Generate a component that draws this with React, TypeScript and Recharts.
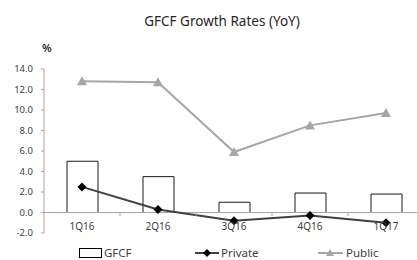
import { ComposedChart, Bar, Line, XAxis, YAxis, ReferenceLine } from 'recharts';

const quarters = ['1Q16', '2Q16', '3Q16', '4Q16', '1Q17'];
const gfcf = [5.0, 3.5, 1.0, 1.9, 1.8];
const privateInv = [2.5, 0.3, -0.8, -0.3, -1.0];
const publicInv = [12.8, 12.7, 5.9, 8.5, 9.7];
const yTicks = [-2, 0, 2, 4, 6, 8, 10, 12, 14];

const data = quarters.map((q, i) => ({
  name: q,
  GFCF: gfcf[i],
  Private: privateInv[i],
  Public: publicInv[i],
}));

const FONT = '"Noto Sans", "DejaVu Sans", sans-serif';
const TEXT = '#404040';
const GRAY = '#a6a6a6';

// diamond marker for the private series
const Diamond = (props: any) => {
  const { cx, cy } = props;
  if (cx == null || cy == null) return null;
  const r = 4.5;
  return (
    <polygon
      points={`${cx},${cy - r} ${cx + r},${cy} ${cx},${cy + r} ${cx - r},${cy}`}
      fill="#000"
    />
  );
};

// triangle marker for the public series
const Triangle = (props: any) => {
  const { cx, cy } = props;
  if (cx == null || cy == null) return null;
  return (
    <polygon
      points={`${cx},${cy - 5} ${cx + 5},${cy + 4} ${cx - 5},${cy + 4}`}
      fill={GRAY}
    />
  );
};

// category label, plus a small tick at the left edge of each band (on the zero line)
const QuarterTick = (props: any) => {
  const { x, y, payload, index } = props;
  const edge = payload.coordinate - payload.offset;
  return (
    <g>
      {index > 0 && (
        <line x1={edge} x2={edge} y1={y - 21} y2={y - 17} stroke={GRAY} />
      )}
      <text x={x} y={y - 3} textAnchor="middle" fill={TEXT} fontSize={10} fontFamily={FONT}>
        {payload.value}
      </text>
    </g>
  );
};

const LegendRow = () => (
  <svg width={417} height={20} style={{ position: 'absolute', left: 0, top: 243 }}>
    <rect x={79.5} y={5.5} width={22} height={9} fill="#fff" stroke="#000" />
    <text x={104} y={14} fill={TEXT} fontSize={11.5} fontFamily={FONT}>GFCF</text>
    <line x1={195} x2={219} y1={10} y2={10} stroke="#404040" strokeWidth={2} />
    <polygon points="207,6 211,10 207,14 203,10" fill="#000" />
    <text x={221} y={14} fill={TEXT} fontSize={11.5} fontFamily={FONT}>Private</text>
    <line x1={318} x2={343} y1={10} y2={10} stroke={GRAY} strokeWidth={2} />
    <polygon points="330,6 334,13 326,13" fill={GRAY} />
    <text x={346} y={14} fill={TEXT} fontSize={11.5} fontFamily={FONT}>Public</text>
  </svg>
);

export default function App() {
  return (
    <div
      style={{
        position: 'absolute',
        left: 0,
        top: 0,
        width: 417,
        height: 260,
        overflow: 'hidden',
        background: '#fff',
        fontFamily: FONT,
      }}
    >
      <div
        style={{
          position: 'absolute',
          top: 12,
          left: 0,
          width: 444,
          textAlign: 'center',
          fontSize: 13.5,
          color: '#262626',
        }}
      >
        GFCF Growth Rates (YoY)
      </div>
      <div style={{ position: 'absolute', top: 40, left: 42, fontSize: 11, fontWeight: 600, color: '#262626' }}>
        %
      </div>
      <ComposedChart
        width={425}
        height={260}
        data={data}
        margin={{ top: 69, right: 1, bottom: 7, left: 0 }}
        barCategoryGap={0}
      >
        <XAxis
          dataKey="name"
          height={20}
          axisLine={false}
          tickLine={false}
          tickSize={0}
          tickMargin={0}
          interval={0}
          tick={<QuarterTick />}
        />
        <YAxis
          width={44}
          domain={[-2, 14]}
          ticks={yTicks}
          interval={0}
          tickFormatter={(v: number) => v.toFixed(1)}
          axisLine={{ stroke: GRAY }}
          tickLine={{ stroke: GRAY }}
          tickSize={3}
          tickMargin={8}
          tick={{ fill: TEXT, fontSize: 9.5, fontFamily: FONT }}
        />
        <ReferenceLine y={0} stroke={GRAY} />
        <Bar dataKey="GFCF" barSize={31} fill="#fff" stroke="#1a1a1a" strokeWidth={1} isAnimationActive={false} />
        <Line
          dataKey="Private"
          stroke="#404040"
          strokeWidth={2}
          dot={<Diamond />}
          activeDot={false}
          isAnimationActive={false}
        />
        <Line
          dataKey="Public"
          stroke={GRAY}
          strokeWidth={2}
          dot={<Triangle />}
          activeDot={false}
          isAnimationActive={false}
        />
      </ComposedChart>
      <LegendRow />
    </div>
  );
}
